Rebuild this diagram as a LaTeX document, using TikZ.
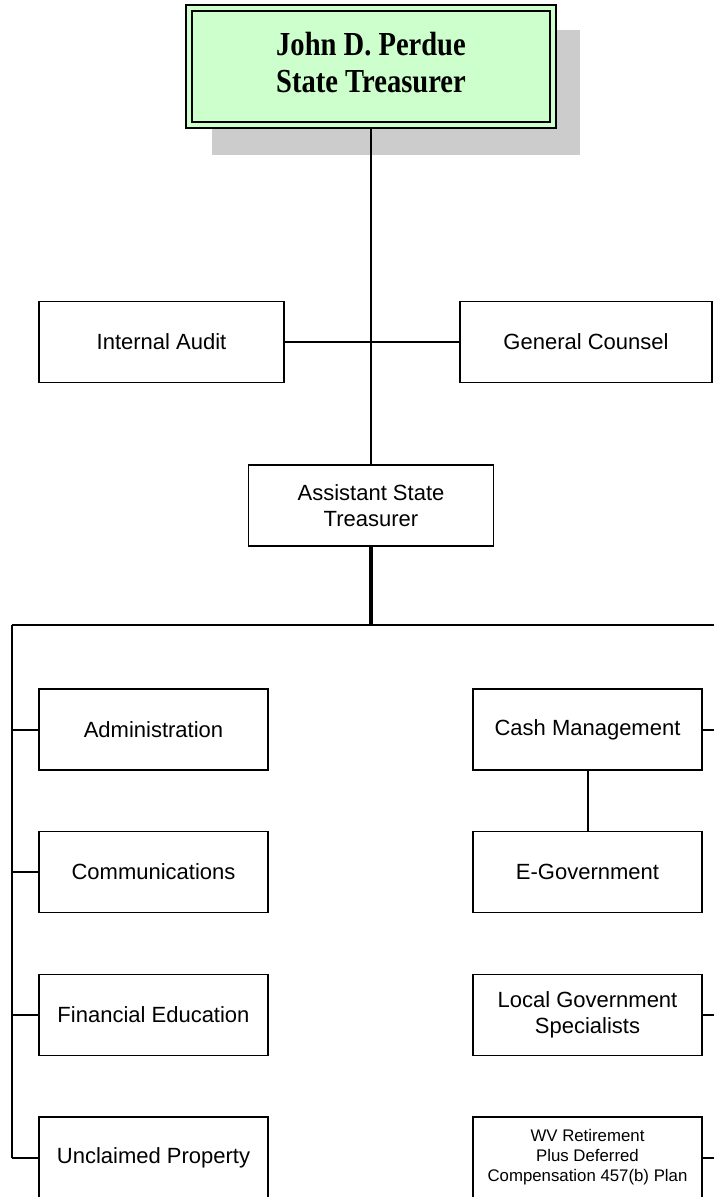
\documentclass[tikz,border=0pt]{standalone}
\usepackage{fontspec}
\setmainfont{Liberation Sans}
\newfontfamily\serifbold{Liberation Serif}
\usepackage{graphicx}
\definecolor{topfill}{HTML}{CCFFCC}
\definecolor{shadowgray}{HTML}{CCCCCC}
\tikzset{
  unitbox/.style={draw=black, line width=1.8pt, fill=white, rectangle, inner sep=0pt,
    minimum width=229pt, minimum height=81pt, align=center,
    font=\fontsize{22}{26}\selectfont},
  widebox/.style={unitbox, minimum width=245pt},
  smalltext/.style={font=\fontsize{16.8}{20}\selectfont},
  link/.style={line width=2pt},
  thicklink/.style={line width=3.2pt},
}
\begin{document}
\begin{tikzpicture}[x=1pt,y=-1pt]
\useasboundingbox[fill=white] (0,0) rectangle (714,1197);
% shadow
\fill[shadowgray] (212,30) rectangle (580,155);
% top box
\node[draw=black, line width=2.2pt, fill=topfill, rectangle, minimum width=370pt, minimum height=123pt, inner sep=0pt] (top) at (371,66.5) {};
\node[draw=black, line width=1.6pt, rectangle, minimum width=358pt, minimum height=111pt, inner sep=0pt] (topin) at (top.center)
  {\scalebox{1.02}[1.2]{\serifbold\bfseries\fontsize{28}{32}\selectfont\begin{tabular}{@{}c@{}}John D. Perdue\\[-1pt] State Treasurer\end{tabular}}};
% second level
\node[widebox] (ia) at (161.5,342) {Internal Audit};
\node[widebox, minimum width=252pt] (gc) at (586,342) {General Counsel};
\node[widebox] (ast) at (371,505.5) {Assistant State\\Treasurer};
% left column
\node[unitbox] (adm) at (153.5,729.5) {Administration};
\node[unitbox] (com) at (153.5,872) {Communications};
\node[unitbox] (fin) at (153.5,1015) {Financial Education};
\node[unitbox] (unc) at (153.5,1157.5) {Unclaimed Property};
% right column
\node[unitbox] (cash) at (587.5,729.5) {Cash Management};
\node[unitbox] (egov) at (587.5,872) {E-Government};
\node[unitbox] (lgs) at (587.5,1015) {Local Government\\Specialists};
\node[unitbox, smalltext] (wv) at (587.5,1157.5) {WV Retirement\\Plus Deferred\\Compensation 457(b) Plan};
% coordinates
\coordinate (busL) at (12,625);
\coordinate (busR) at (714,625);
\coordinate (busM) at (371,625);
\coordinate (lbot) at (12,1157.5);
\coordinate (r1) at (714,729.5);
\coordinate (r3) at (714,1015);
\coordinate (r4) at (714,1157.5);
% connectors
\draw[link] (top.south -| ast.north) -- (ast.north);
\draw[link] (ia.east) -- (gc.west);
\draw[thicklink] (ast.south) -- (busM);
\draw[link] (busL) -- (busR);
\draw[link] (busL) -- (lbot);
\draw[link] (adm.west) -- (adm.west -| busL);
\draw[link] (com.west) -- (com.west -| busL);
\draw[link] (fin.west) -- (fin.west -| busL);
\draw[link] (unc.west) -- (lbot);
\draw[link] (cash.east) -- (r1);
\draw[link] (lgs.east) -- (r3);
\draw[link] (wv.east) -- (r4);
\draw[link] (cash.south) -- (egov.north);
\end{tikzpicture}
\end{document}
